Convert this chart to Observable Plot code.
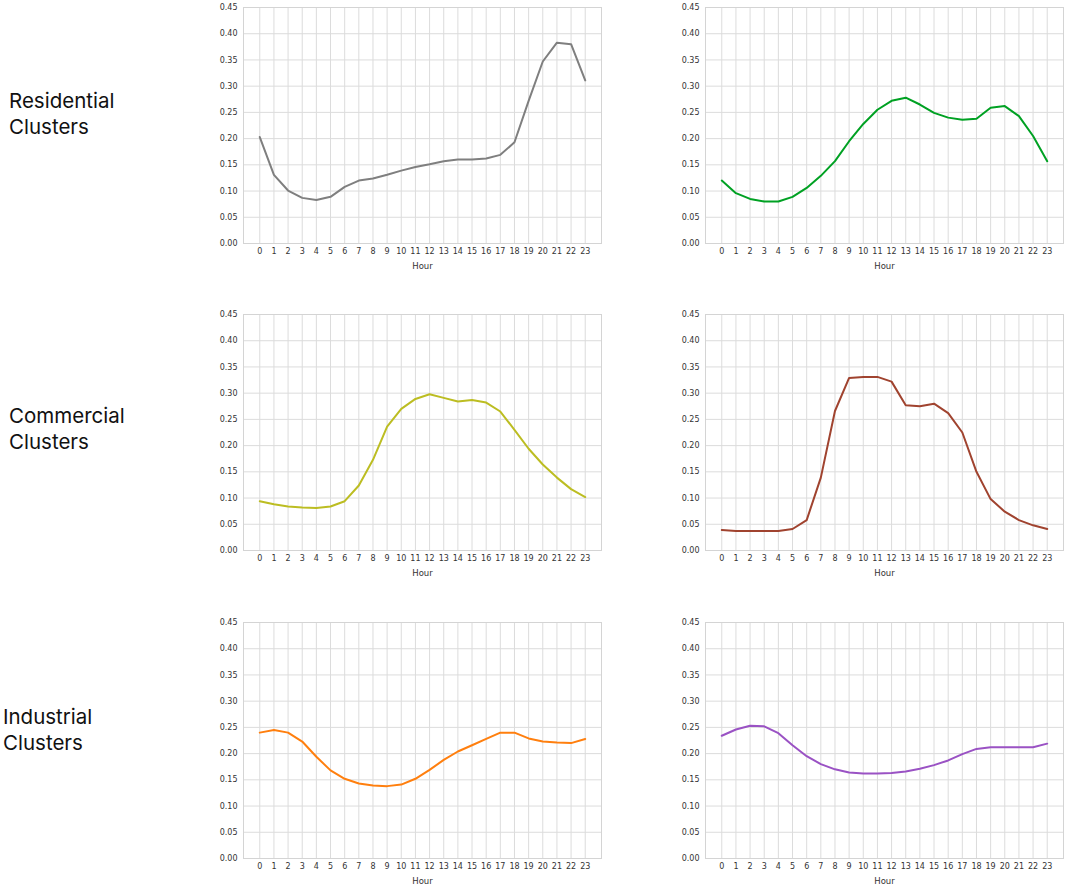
<!DOCTYPE html>
<html>
<head>
<meta charset="utf-8">
<script src="https://cdn.jsdelivr.net/npm/d3@7"></script>
<script src="https://cdn.jsdelivr.net/npm/@observablehq/plot@0.6"></script>
<style>
  html, body { margin: 0; padding: 0; background: #fff; }
  #root { position: relative; width: 1065px; height: 886px; overflow: hidden; }
  .panel { position: absolute; }
  .rowlabel { position: absolute; font-family: Inter, "Noto Sans", sans-serif; font-size: 20.5px; line-height: 26px; color: #111; font-weight: 400; }
</style>
</head>
<body>
<div id="root"></div>
<script>
const hours = d3.range(24);
const yTicks = [0, 0.05, 0.10, 0.15, 0.20, 0.25, 0.30, 0.35, 0.40, 0.45];
const rowLabels = ["Residential\nClusters", "Commercial\nClusters", "Industrial\nClusters"];

const residentialA = [0.203,0.131,0.101,0.087,0.083,0.089,0.108,0.120,0.124,0.131,0.139,0.146,0.151,0.157,0.160,0.160,0.162,0.169,0.193,0.272,0.347,0.383,0.380,0.311];
const residentialB = [0.120,0.096,0.085,0.080,0.080,0.089,0.106,0.129,0.157,0.195,0.228,0.255,0.272,0.278,0.265,0.249,0.240,0.236,0.238,0.259,0.262,0.243,0.205,0.157];
const commercialA = [0.094,0.088,0.084,0.082,0.081,0.084,0.094,0.124,0.173,0.236,0.270,0.289,0.298,0.291,0.284,0.287,0.282,0.265,0.230,0.194,0.164,0.139,0.117,0.102];
const commercialB = [0.039,0.037,0.037,0.037,0.037,0.041,0.058,0.139,0.266,0.329,0.331,0.331,0.322,0.277,0.275,0.280,0.262,0.225,0.150,0.098,0.074,0.058,0.048,0.041];
const industrialA = [0.240,0.245,0.240,0.223,0.194,0.168,0.152,0.143,0.139,0.138,0.141,0.152,0.169,0.188,0.204,0.216,0.228,0.240,0.240,0.229,0.223,0.221,0.220,0.228];
const industrialB = [0.234,0.246,0.253,0.252,0.239,0.216,0.195,0.180,0.170,0.164,0.162,0.162,0.163,0.166,0.171,0.178,0.187,0.199,0.209,0.212,0.212,0.212,0.212,0.219];

const panelColors = ["#7f7f7f", "#00a123", "#bcbd22", "#a0432f", "#ff7f0e", "#9a52c4"];
const panelSeries = [residentialA, residentialB, commercialA, commercialB, industrialA, industrialB];

const root = document.getElementById("root");
const colLeft = [200, 662];
const rowTop = [0, 307, 615];
const labelTops = [88, 403, 704];
const labelLefts = [9, 9, 3];

rowLabels.forEach((t, i) => {
  const div = document.createElement("div");
  div.className = "rowlabel";
  div.style.left = labelLefts[i] + "px";
  div.style.top = labelTops[i] + "px";
  div.innerHTML = t.split("\n").join("<br>");
  root.appendChild(div);
});

panelSeries.forEach((vals, k) => {
  const r = Math.floor(k / 2), c = k % 2;
  const data = hours.map((h, i) => ({hour: h, value: vals[i]}));
  const chart = Plot.plot({
    width: 403,
    height: 278,
    marginLeft: 43,
    marginRight: 2,
    marginTop: 7,
    marginBottom: 35,
    style: {fontFamily: "'DejaVu Sans', sans-serif", fontSize: "8px", color: "#333", background: "transparent", overflow: "visible"},
    x: {domain: [-1.15, 24.15], label: null},
    y: {domain: [0, 0.45], label: null},
    marks: [
      Plot.gridX(hours, {stroke: "#dcdcdc", strokeOpacity: 1, strokeWidth: 1}),
      Plot.gridY(yTicks, {stroke: "#dcdcdc", strokeOpacity: 1, strokeWidth: 1}),
      Plot.frame({stroke: "#d4d4d4", strokeWidth: 1}),
      Plot.axisX(hours, {tickSize: 0, tickPadding: 5, fill: "#333", fontSize: 8, tickFormat: d => String(d), label: null}),
      Plot.axisY(yTicks, {tickSize: 0, tickPadding: 6, fill: "#333", fontSize: 8, tickFormat: d => d.toFixed(2), label: null}),
      Plot.text(["Hour"], {frameAnchor: "bottom", dy: 25, fill: "#333", fontSize: 8.5}),
      Plot.line(data, {x: "hour", y: "value", stroke: panelColors[k], strokeWidth: 2})
    ]
  });
  chart.classList.add("panel");
  chart.style.left = colLeft[c] + "px";
  chart.style.top = rowTop[r] + "px";
  root.appendChild(chart);
});
</script>
</body>
</html>
